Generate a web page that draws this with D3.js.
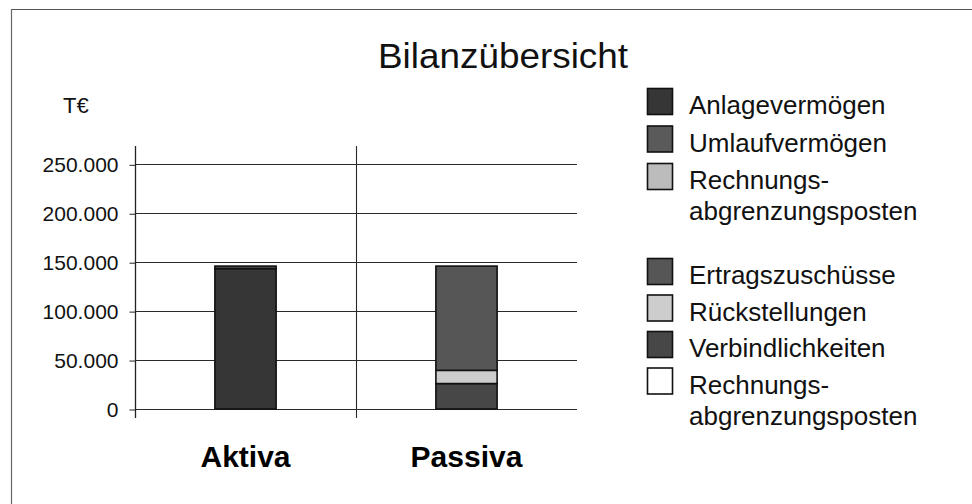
<!DOCTYPE html>
<html>
<head>
<meta charset="utf-8">
<script src="https://cdn.jsdelivr.net/npm/d3@7"></script>
<style>
  html, body { margin: 0; padding: 0; background: #fff; }
  svg { display: block; font-family: "Liberation Sans", Arial, sans-serif; }
</style>
</head>
<body>
<svg id="chart" width="972" height="504"></svg>
<script>
// ---- data ----
const categories = ["Aktiva", "Passiva"];
const aktivaSeries = ["Anlagevermögen", "Umlaufvermögen", "Rechnungs-\nabgrenzungsposten"];
const aktivaValues = [143500, 2500, 0];           // Aktiva stack (bottom → top)
const passivaSeries = ["Ertragszuschüsse", "Rückstellungen", "Verbindlichkeiten", "Rechnungs-\nabgrenzungsposten"];
const passivaValues = [106500, 13500, 26000, 0];  // in legend order
const passivaStackOrder = [2, 1, 0, 3];           // Verbindlichkeiten bottom, then Rückstellungen, Ertragszuschüsse, RAP
const yTicks = [0, 50000, 100000, 150000, 200000, 250000];
const title = "Bilanzübersicht";
const unitLabel = "T€";

// ---- styles ----
const aktivaColors = ["#363636", "#5a5a5a", "#bcbcbc"];
const passivaColors = ["#565656", "#cdcdcd", "#474747", "#ffffff"];

const svg = d3.select("#chart");

// frame (scanned page border)
svg.append("line").attr("x1", 11).attr("x2", 972).attr("y1", 9.5).attr("y2", 9.5)
  .attr("stroke", "#555").attr("stroke-width", 1.2);
svg.append("line").attr("x1", 11.5).attr("x2", 11.5).attr("y1", 9).attr("y2", 504)
  .attr("stroke", "#666").attr("stroke-width", 1.2);

// scales
const plot = { left: 135, right: 577, top: 146, zero: 409, top250: 164.3 };
const x = d3.scaleBand().domain(categories).range([plot.left, plot.right]).padding(0);
const y = d3.scaleLinear().domain([0, 250000]).range([plot.zero, plot.top250]);
const barW = x.bandwidth() * 0.277;

// gridlines
svg.append("g").selectAll("line").data(yTicks).join("line")
  .attr("x1", plot.left).attr("x2", plot.right)
  .attr("y1", d => Math.round(y(d)) + 0.5).attr("y2", d => Math.round(y(d)) + 0.5)
  .attr("stroke", "#2a2a2a").attr("stroke-width", 1.1);

// category divider (vertical gridline)
svg.append("line")
  .attr("x1", x("Passiva") + 0.5).attr("x2", x("Passiva") + 0.5)
  .attr("y1", plot.top).attr("y2", plot.zero + 9)
  .attr("stroke", "#2a2a2a").attr("stroke-width", 1.1);

// y axis
const yAxis = d3.axisLeft(y).tickValues(yTicks).tickSize(6).tickPadding(11)
  .tickFormat(d => d3.format(",")(d).replace(/,/g, "."));
const gy = svg.append("g").attr("transform", `translate(${plot.left + 0.5},0.5)`).call(yAxis);
gy.select(".domain").remove();
gy.selectAll(".tick line").attr("stroke", "#222");
gy.selectAll(".tick text").attr("font-size", 21).attr("fill", "#111")
  .attr("font-family", "Liberation Sans, Arial, sans-serif");
svg.append("line").attr("x1", plot.left + 0.5).attr("x2", plot.left + 0.5)
  .attr("y1", plot.top).attr("y2", plot.zero + 9).attr("stroke", "#222").attr("stroke-width", 1.3);

// stacked bars
function stackBar(cat, values, colors, order) {
  let acc = 0;
  const segs = order.map(i => {
    const s = { v0: acc, v1: acc + values[i], color: colors[i] };
    acc += values[i];
    return s;
  }).filter(s => s.v1 > s.v0);
  const cx = x(cat) + x.bandwidth() / 2;
  svg.append("g").selectAll("rect").data(segs).join("rect")
    .attr("x", cx - barW / 2).attr("width", barW)
    .attr("y", d => y(d.v1)).attr("height", d => y(d.v0) - y(d.v1))
    .attr("fill", d => d.color).attr("stroke", "#111").attr("stroke-width", 1.6);
}
stackBar("Aktiva", aktivaValues, aktivaColors, [0, 1, 2]);
stackBar("Passiva", passivaValues, passivaColors, passivaStackOrder);

// category labels
svg.append("g").selectAll("text").data(categories).join("text")
  .attr("x", d => x(d) + x.bandwidth() / 2).attr("y", 466.5)
  .attr("text-anchor", "middle").attr("font-weight", "bold").attr("font-size", 30)
  .attr("fill", "#000").text(d => d);

// title and unit
svg.append("text").attr("x", 503).attr("y", 67.5).attr("text-anchor", "middle")
  .attr("font-size", 35).attr("fill", "#111").attr("textLength", 250).attr("lengthAdjust", "spacingAndGlyphs")
  .text(title);
svg.append("text").attr("x", 63).attr("y", 113).attr("font-size", 22).attr("fill", "#111").text(unitLabel);

// legend
function legendGroup(names, colors, top, step) {
  const g = svg.append("g");
  names.forEach((n, i) => {
    const ty = top + i * step;
    g.append("rect").attr("x", 647.5).attr("y", ty + 0.5).attr("width", 25).attr("height", 26)
      .attr("fill", colors[i]).attr("stroke", "#111").attr("stroke-width", 1.6);
    const lines = n.split("\n");
    const t = g.append("text").attr("x", 689).attr("y", ty + 26).attr("font-size", 26).attr("fill", "#111");
    lines.forEach((ln, j) => {
      t.append("tspan").attr("x", 689).attr("dy", j === 0 ? 0 : 31).text(ln);
    });
  });
}
legendGroup(aktivaSeries, aktivaColors, 88, 37.5);
legendGroup(passivaSeries, passivaColors, 258, 36.5);
</script>
</body>
</html>
